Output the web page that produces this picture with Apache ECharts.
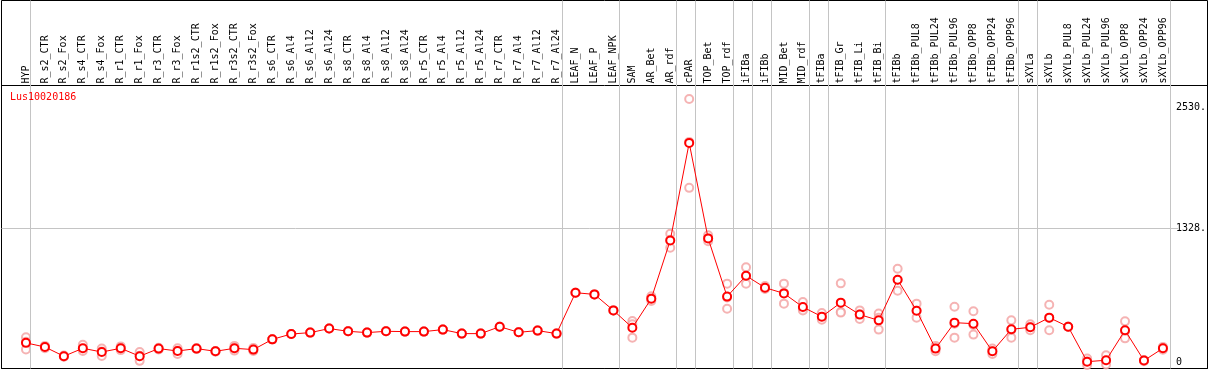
<!DOCTYPE html>
<html>
<head>
<meta charset="utf-8">
<script src="https://cdn.jsdelivr.net/npm/echarts@6/dist/echarts.min.js"></script>
<style>
html,body{margin:0;padding:0;background:#fff;}
#c{width:1209px;height:370px;}
</style>
</head>
<body>
<div id="c"></div>
<script>
// ---- data ----
const categories = ["HYP","R_s2_CTR","R_s2_Fox","R_s4_CTR","R_s4_Fox","R_r1_CTR","R_r1_Fox","R_r3_CTR","R_r3_Fox","R_r1s2_CTR","R_r1s2_Fox","R_r3s2_CTR","R_r3s2_Fox","R_s6_CTR","R_s6_Al4","R_s6_Al12","R_s6_Al24","R_s8_CTR","R_s8_Al4","R_s8_Al12","R_s8_Al24","R_r5_CTR","R_r5_Al4","R_r5_Al12","R_r5_Al24","R_r7_CTR","R_r7_Al4","R_r7_Al12","R_r7_Al24","LEAF_N","LEAF_P","LEAF_NPK","SAM","AR_Bet","AR_rdf","cPAR","TOP_Bet","TOP_rdf","iFIBa","iFIBb","MID_Bet","MID_rdf","tFIBa","tFIB_Gr","tFIB_Li","tFIB_Bi","tFIBb","tFIBb_PUL8","tFIBb_PUL24","tFIBb_PUL96","tFIBb_OPP8","tFIBb_OPP24","tFIBb_OPP96","sXYLa","sXYLb","sXYLb_PUL8","sXYLb_PUL24","sXYLb_PUL96","sXYLb_OPP8","sXYLb_OPP24","sXYLb_OPP96"];
const meanValues = [190,149,57,136,99,136,57,133,109,133,106,136,123,225,278,292,332,305,292,305,302,302,322,282,282,351,295,312,282,689,672,513,341,630,1209,2179,1229,650,858,739,682,546,451,590,471,414,818,510,133,391,381,106,325,345,441,351,3,17,315,14,136];
const rep1 = [245,160,65,170,133,155,98,142,136,138,110,160,140,225,278,292,332,305,292,305,302,302,322,282,282,351,295,312,282,689,672,513,407,653,1275,2616,1260,779,941,755,779,596,487,782,513,481,927,580,160,550,504,133,414,375,570,351,35,67,404,20,150];
const rep2 = [200,150,55,128,105,135,62,132,111,132,106,135,120,225,278,292,332,305,292,305,302,302,322,282,282,351,295,312,282,689,672,513,374,630,1216,2189,1229,641,854,735,687,529,445,497,473,439,818,509,133,381,367,106,319,345,438,351,5,10,306,14,136];
const rep3 = [125,137,51,110,59,118,11,125,80,129,102,113,109,225,278,292,332,305,292,305,302,302,322,282,282,351,295,312,282,689,672,513,242,607,1136,1732,1200,530,779,727,580,513,421,491,427,322,709,441,106,242,272,80,242,315,315,351,-30,-26,235,8,122];
const yTickValues = [0, 1328, 2530];
const gridLineValues = [1328];
const groupEnds = [-1,0,28,31,34,35,37,38,39,41,42,45,52,53,60];
const geneName = "Lus10020186";

const Y_MIN = -65, Y_MAX = 2750;
const FONT = "DejaVu Sans Mono";
const chart = echarts.init(document.getElementById('c'), null, {renderer: 'canvas'});

const repSeries = [rep1, rep2, rep3].map(r => ({
  type: 'scatter', xAxisIndex: 2, yAxisIndex: 2, data: r,
  symbol: 'emptyCircle', symbolSize: 8,
  itemStyle: {color: '#f2a0a0', borderColor: '#f09a9a', borderWidth: 1.3},
  z: 3, silent: true
}));

chart.setOption({
  animation: false,
  backgroundColor: '#fff',
  title: {
    text: geneName, left: 10, top: 92, padding: 0,
    textStyle: {color: '#ff0000', fontSize: 10, fontWeight: 'normal', fontFamily: FONT}
  },
  grid: [
    {left: 1.5, right: 1.5, top: 0.5, bottom: 1.5, show: true, borderColor: '#000', borderWidth: 1, backgroundColor: 'transparent'},
    {left: 1.5, right: 1.5, top: 85.5, bottom: 1.5, show: true, borderColor: '#000', borderWidth: 1, backgroundColor: 'transparent'},
    {left: 16.5, right: 33.5, top: 85.5, bottom: 1.5},
    {left: 16.5, right: 33.5, top: 0.5, bottom: 1.5},
    {left: 1.5, right: 31, top: 85.5, bottom: 1.5}
  ],
  xAxis: [
    {gridIndex: 0, type: 'value', show: false, min: 0, max: 1},
    {gridIndex: 1, type: 'value', show: false, min: 0, max: 1},
    {gridIndex: 2, type: 'category', data: categories, position: 'top', boundaryGap: true,
     axisLine: {show: false}, axisTick: {show: false}, splitLine: {show: false},
     axisLabel: {interval: 0, rotate: 90, margin: 2, fontFamily: FONT, fontSize: 10, color: '#000'}},
    {gridIndex: 3, type: 'value', show: false, min: -0.5, max: 60.5},
    {gridIndex: 4, type: 'value', show: false, min: 0, max: 1}
  ],
  yAxis: [
    {gridIndex: 0, type: 'value', show: false, min: 0, max: 1},
    {gridIndex: 1, type: 'value', show: false, min: 0, max: 1},
    {gridIndex: 2, type: 'value', position: 'right', min: Y_MIN, max: Y_MAX,
     axisLine: {show: false}, axisTick: {show: false}, splitLine: {show: false},
     axisLabel: {customValues: yTickValues, margin: 3.5, fontFamily: FONT, fontSize: 10, color: '#000',
       formatter: v => v === 0 ? '0' : v + '.'}},
    {gridIndex: 3, type: 'value', show: false, min: 0, max: 1},
    {gridIndex: 4, type: 'value', show: false, min: Y_MIN, max: Y_MAX}
  ],
  series: [
    {type: 'line', xAxisIndex: 3, yAxisIndex: 3, data: [], silent: true, z: 1,
     markLine: {silent: true, symbol: 'none', label: {show: false},
       lineStyle: {color: '#c4c4c4', width: 1, type: 'solid'},
       data: groupEnds.map(g => ({xAxis: g + 0.237}))}},
    {type: 'line', xAxisIndex: 4, yAxisIndex: 4, data: [], silent: true, z: 1,
     markLine: {silent: true, symbol: 'none', label: {show: false},
       lineStyle: {color: '#c4c4c4', width: 1, type: 'solid'},
       data: gridLineValues.map(v => ({yAxis: v}))}},
    ...repSeries,
    {type: 'line', xAxisIndex: 2, yAxisIndex: 2, data: meanValues, z: 5,
     showAllSymbol: true, symbol: 'emptyCircle', symbolSize: 8,
     lineStyle: {color: '#ff0000', width: 1},
     itemStyle: {color: '#ff0000', borderColor: '#ff0000', borderWidth: 1.3}}
  ]
});
</script>
</body>
</html>
